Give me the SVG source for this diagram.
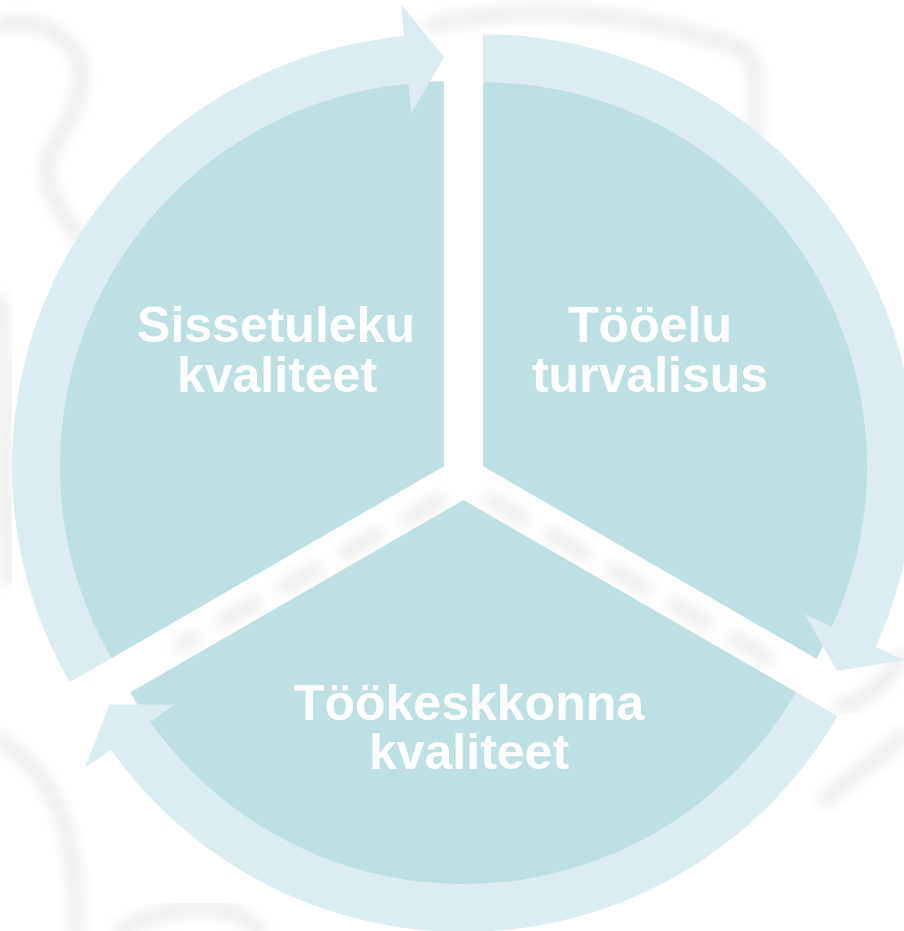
<svg xmlns="http://www.w3.org/2000/svg" width="904" height="931" viewBox="0 0 904 931">
  <defs>
    <filter id="blur" x="-20%" y="-20%" width="140%" height="140%">
      <feGaussianBlur stdDeviation="7"/>
    </filter>
    <path id="pieShape" d="M 0 0 L -333.42 192.5 A 385 385 0 0 1 0 -385 Z"/>
    <path id="arrowShape" d="M -374.12 216 A 432 432 0 0 1 -39.9 -430.15 L -42.86 -462.01 L 0 -409 L -32.7 -352.48 L -35.49 -382.36 A 384 384 0 0 0 -332.56 192 Z"/>
  </defs>
  <style>
    .bg { fill: none; stroke: #bdbdbd; stroke-opacity: 0.32; stroke-width: 12; stroke-linecap: round; filter: url(#blur); }
    .pie { fill: #bde0e3; }
    .arrow { fill: #dbedf0; }
    .label { fill: #ffffff; font-family: "Liberation Sans", Arial, sans-serif; font-weight: bold; font-size: 50px; text-anchor: middle; }
  </style>
  <rect width="904" height="931" fill="#ffffff"/>
  <g id="background">
    <path class="bg" d="M 0 25 C 40 15, 90 40, 80 90 S 30 150, 55 200 S 110 250, 95 300"/>
    <path class="bg" d="M 430 25 C 540 0, 650 15, 745 50 L 755 70 L 755 140"/>
    <path class="bg" d="M 0 300 C 8 380, 4 480, 10 580"/>
    <path class="bg" d="M 904 655 C 880 690, 860 705, 840 705"/>
    <path class="bg" d="M 904 735 C 880 760, 850 775, 825 800"/>
    <path class="bg" d="M 0 740 C 50 770, 80 830, 75 931"/>
    <path class="bg" d="M 120 931 C 180 900, 230 900, 260 931"/>
    <path class="bg" d="M 463 110 L 463 460" stroke-dasharray="40 30"/>
    <path class="bg" d="M 440 500 L 180 645" stroke-dasharray="40 30"/>
    <path class="bg" d="M 490 500 L 780 665" stroke-dasharray="40 30"/>
  </g>
  <g id="node-sissetuleku">
    <use href="#pieShape" class="pie" transform="translate(444,466.25)"/>
    <text class="label" x="276" y="342">Sissetuleku</text>
    <text class="label" x="277" y="392">kvaliteet</text>
  </g>
  <g id="node-tooelu">
    <use href="#pieShape" class="pie" transform="translate(483,466.25) rotate(120)"/>
    <text class="label" x="650" y="342">Tööelu</text>
    <text class="label" x="650" y="392">turvalisus</text>
  </g>
  <g id="node-tookeskkonna">
    <use href="#pieShape" class="pie" transform="translate(463.5,500) rotate(240)"/>
    <text class="label" x="469" y="720">Töökeskkonna</text>
    <text class="label" x="469" y="769">kvaliteet</text>
  </g>
  <g id="connectors">
    <use href="#arrowShape" class="arrow" transform="translate(444,466.25)"/>
    <use href="#arrowShape" class="arrow" transform="translate(483,466.25) rotate(120)"/>
    <use href="#arrowShape" class="arrow" transform="translate(463.5,500) rotate(240)"/>
  </g>
</svg>
